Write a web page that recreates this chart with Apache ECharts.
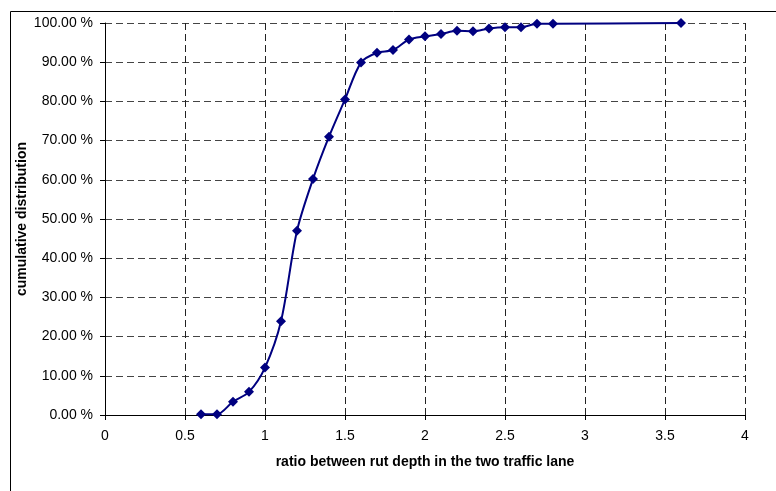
<!DOCTYPE html>
<html>
<head>
<meta charset="utf-8">
<script src="https://cdn.jsdelivr.net/npm/echarts@6/dist/echarts.min.js"></script>
<style>
  html, body { margin: 0; padding: 0; background: #fff; }
  #chart { width: 776px; height: 491px; }
</style>
</head>
<body>
<div id="chart"></div>
<script>
// ratio between rut depths (x) and cumulative share in % (y)
var ratios = [0.6, 0.7, 0.8, 0.9, 1.0, 1.1, 1.2, 1.3, 1.4, 1.5, 1.6, 1.7, 1.8, 1.9,
  2.0, 2.1, 2.2, 2.3, 2.4, 2.5, 2.6, 2.7, 2.8, 3.6]
var cumulative = [0.2, 0.2, 3.4, 5.9, 12.1, 23.9, 47.0, 60.2, 71.0, 80.5, 89.9, 92.4, 93.1, 95.8,
  96.6, 97.2, 98.0, 97.9, 98.6, 98.9, 98.9, 99.8, 99.8, 100]

var xTitle = 'ratio between rut depth in the two traffic lane'
var yTitle = 'cumulative distribution'

var chart = echarts.init(document.getElementById('chart'))

var font = 'Liberation Sans, Arial, sans-serif'
var points = ratios.map(function (r, i) { return [r, cumulative[i]] })

chart.setOption({
  animation: false,
  textStyle: { fontFamily: font },
  graphic: [{
    type: 'rect',
    shape: { x: 10.5, y: 11.5, width: 900, height: 600 },
    style: { fill: 'none', stroke: '#000', lineWidth: 1 },
    silent: true
  }],
  grid: { left: 105, right: 31, top: 23, bottom: 76 },
  xAxis: {
    type: 'value',
    min: 0,
    max: 4,
    interval: 0.5,
    name: xTitle,
    nameLocation: 'middle',
    nameGap: 40,
    nameMoveOverlap: false,
    nameTextStyle: { fontSize: 14, fontWeight: 'bold', color: '#000', fontFamily: font },
    axisLine: { show: true, onZero: false, lineStyle: { color: '#000', width: 1 } },
    axisTick: { show: true, inside: false, length: 5, lineStyle: { color: '#000' } },
    axisLabel: { fontSize: 14, color: '#000', margin: 14, fontFamily: font },
    splitLine: { show: true, lineStyle: { color: '#222', type: [7, 4], width: 1 } }
  },
  yAxis: {
    type: 'value',
    min: 0,
    max: 100,
    interval: 10,
    name: yTitle,
    nameLocation: 'middle',
    nameGap: 76,
    nameMoveOverlap: false,
    nameTextStyle: { fontSize: 14, fontWeight: 'bold', color: '#000', fontFamily: font },
    axisLine: { show: true, lineStyle: { color: '#000', width: 1 } },
    axisTick: { show: true, inside: false, length: 5, lineStyle: { color: '#000' } },
    axisLabel: {
      fontSize: 14,
      color: '#000',
      margin: 12,
      fontFamily: font,
      formatter: function (v) { return v.toFixed(2) + ' %' }
    },
    splitLine: { show: true, lineStyle: { color: '#444', type: [7, 4], width: 1 } }
  },
  series: [{
    type: 'line',
    data: points,
    smooth: 0.3,
    symbol: 'diamond',
    symbolSize: 10,
    showAllSymbol: true,
    lineStyle: { color: '#000080', width: 2 },
    itemStyle: { color: '#000080' }
  }]
})
</script>
</body>
</html>
